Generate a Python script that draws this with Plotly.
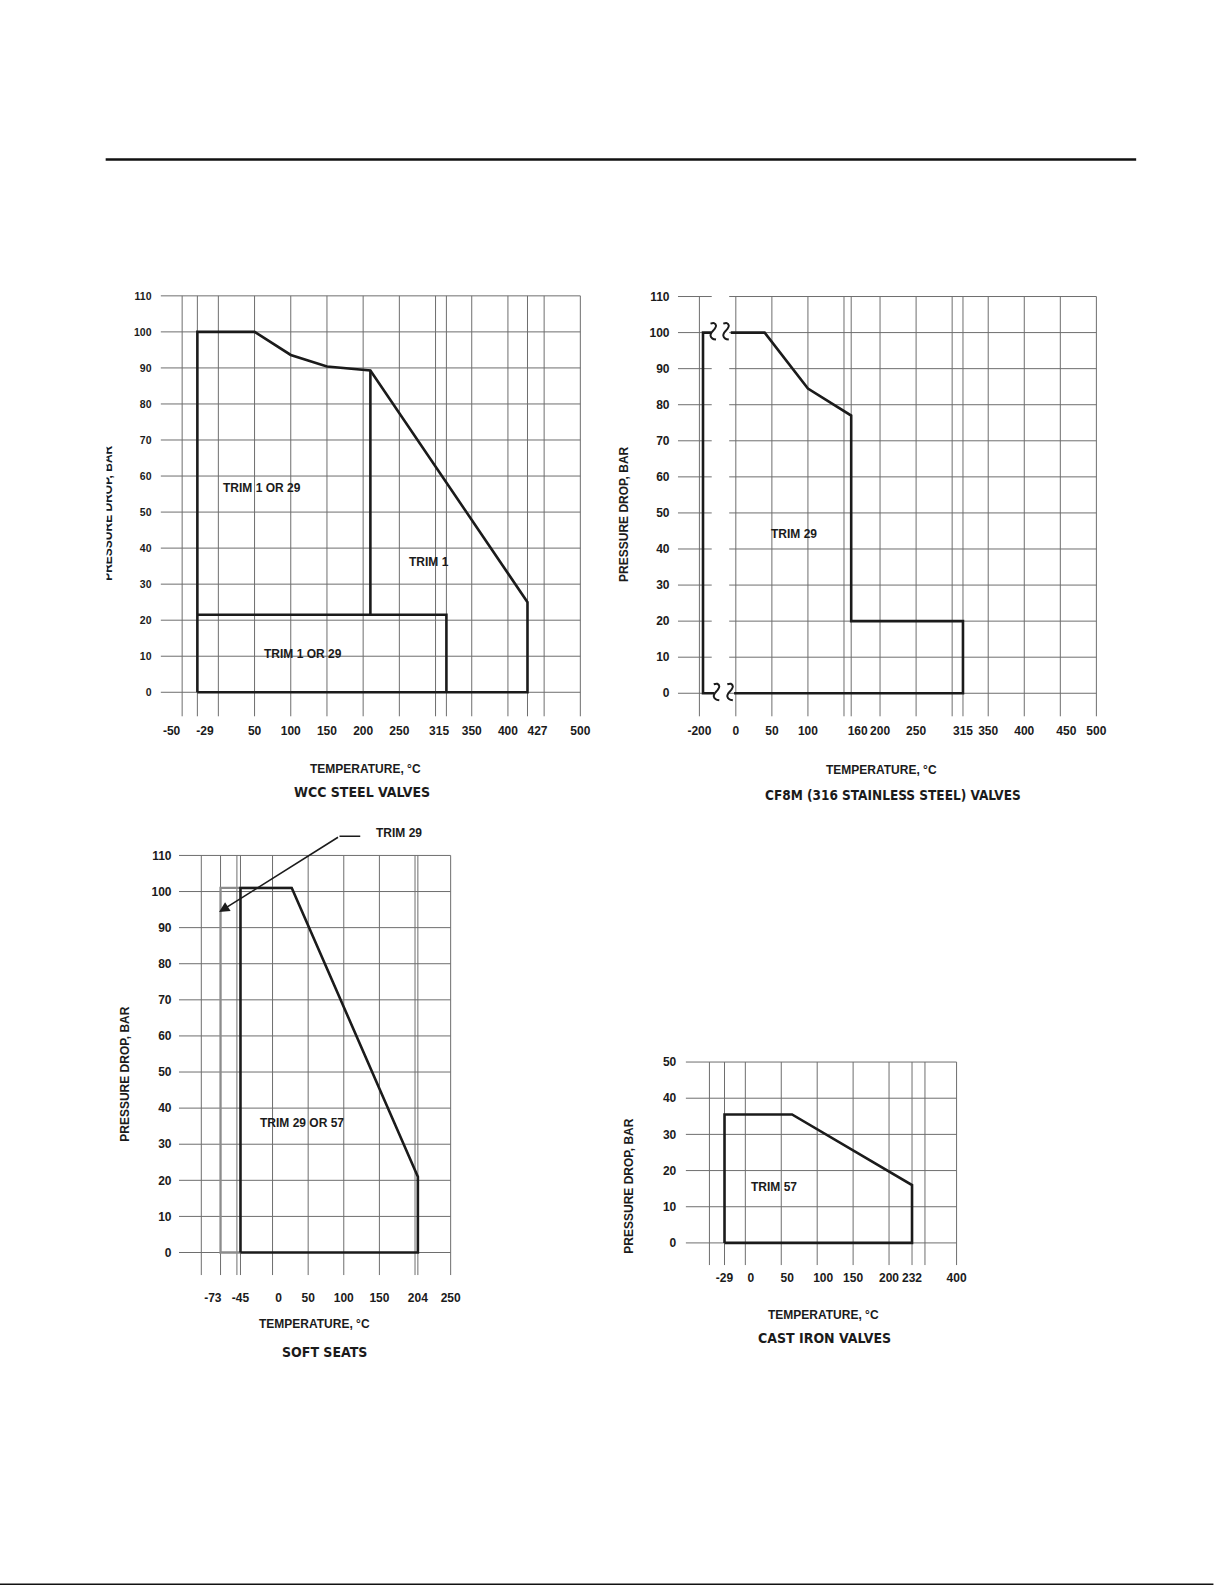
import plotly.graph_objects as go

W, H = 1225, 1585
FONT = "Liberation Sans, Arial, Helvetica, sans-serif"
NARROW = "Liberation Sans Narrow, Arial Narrow, DejaVu Sans Condensed, Liberation Sans, sans-serif"
INK = "#1b1b1b"
GRID = "#6e6e6e"
GRAYLINE = "#8c8c8c"

# ---------------- data ----------------
P_TICKS_110 = [0, 10, 20, 30, 40, 50, 60, 70, 80, 90, 100, 110]
P_TICKS_50 = [0, 10, 20, 30, 40, 50]

# WCC steel valves
WCC_OUTER_T = [-29, -29, 50, 100, 150, 210, 427, 427, -29]
WCC_OUTER_P = [0, 100, 100, 93.6, 90.4, 89.3, 25, 0, 0]
WCC_TRIM1_T = [210, 210]
WCC_TRIM1_P = [89.3, 21.5]
WCC_LOW_T = [-29, 315, 315]
WCC_LOW_P = [21.5, 21.5, 0]
WCC_XTICKS = [-50, -29, 50, 100, 150, 200, 250, 315, 350, 400, 427, 500]
WCC_XGRID = [-50, -29, 0, 50, 100, 150, 200, 250, 300, 315, 350, 400, 427, 450, 500]

# CF8M (316 stainless steel) valves
CF_LEFT_T = -198
CF_T = [0, 40, 100, 160, 160, 315, 315, 0]
CF_P = [100, 100, 84.5, 77, 20, 20, 0, 0]
CF_XTICKS = [-200, 0, 50, 100, 160, 200, 250, 315, 350, 400, 450, 500]
CF_XGRID = [-200, 0, 50, 100, 150, 160, 200, 250, 300, 315, 350, 400, 450, 500]

# Soft seats
SOFT29_T = [-45, -73, -73, 27]
SOFT29_P = [0, 0, 101, 101]
SOFT57_T = [-45, -45, 27, 204, 204, -45]
SOFT57_P = [0, 101, 101, 21, 0, 0]
SOFT_XTICKS = [-73, -45, 0, 50, 100, 150, 204, 250]
SOFT_XGRID = [-100, -73, -50, -45, 0, 50, 100, 150, 200, 204, 250]

# Cast iron valves
CI_T = [-29, -29, 65, 232, 232, -29]
CI_P = [0, 35.5, 35.5, 16, 0, 0]
CI_XTICKS = [-29, 0, 50, 100, 150, 200, 232, 400]
CI_XGRID = [-50, -29, 0, 50, 100, 150, 200, 232, 250, 400]

# small horizontal nudges (pixels) of some tick labels, as printed in the original
WCC_LABEL_NUDGE = {-50: -10.5, -29: 7.6, 315: -7.3, 427: 10}
CF_LABEL_NUDGE = {160: 6.5, 450: 6}
SOFT_LABEL_NUDGE = {-73: -7.7, 0: 6}
CI_LABEL_NUDGE = {0: 5.5, 50: 6, 100: 6}


def cf_pos(t):
    # -200..0 section is compressed (axis break)
    return t if t >= 0 else -50.5 + (t + 200) * 2.5


def ci_pos(t):
    # section above 250 is compressed (axis break)
    return t if t <= 250 else 250 + (t - 250) * 44 / 150


def ident(t):
    return t


# page geometry: horizontal stretch of the measured layout
XS, XO = 1.01, -1.7


def PX(px):
    return (XS * px + XO) / W


def PY(py):
    return 1 - py / H


SPECS = {
    "wcc": dict(n=1, x0=219.3, sx=0.7215, y0=691.7, sy=3.606, gx=(-79.8, 500), gy=(-6.74, 110),
                ytop=111.5, xpad=3, xtl=3, ytl=6, yfs=10.5),
    "cf": dict(n=2, x0=735.0, sx=0.7187, y0=692.7, sy=3.609, gx=(-80.3, 500), gy=(-6.46, 110),
               ytop=111.5, xpad=3, xtl=3, ytl=5, yfs=12),
    "soft": dict(n=3, x0=273.3, sx=0.710, y0=1252.3, sy=3.612, gx=(-131.4, 250), gy=(-6.28, 110),
                 ytop=118, xpad=3, xtl=11, ytl=4, yfs=12),
    "ci": dict(n=4, x0=744.5, sx=0.716, y0=1242.7, sy=3.62, gx=(-83.1, ci_pos(400)), gy=(-6.16, 50),
               ytop=51.5, xpad=3, xtl=1, ytl=6, yfs=12),
}


def px_x(s, v):
    return PX(s["x0"] + s["sx"] * v)


def px_y(s, v):
    return PY(s["y0"] - s["sy"] * v)


fig = go.Figure()
layout = dict(width=W, height=H, autosize=False, margin=dict(l=0, r=0, t=0, b=0),
              paper_bgcolor="white", plot_bgcolor="rgba(0,0,0,0)", showlegend=False)


def add_axes(key, xticks, xpos, yticks, nudge):
    s = SPECS[key]
    n = s["n"]
    sfx = "" if n == 1 else str(n)
    xr = [s["gx"][0], s["gx"][1] + s["xpad"]]
    yr = [s["gy"][0], s["ytop"]]
    layout["xaxis" + sfx] = dict(
        domain=[px_x(s, xr[0]), px_x(s, xr[1])], range=xr, anchor="y" + sfx,
        showgrid=False, zeroline=False, showline=False, fixedrange=True,
        tickmode="array", tickvals=[xpos(t) + nudge.get(t, 0) / s["sx"] for t in xticks],
        ticktext=[str(t) for t in xticks], tickangle=0,
        ticks="outside", ticklen=s["xtl"], tickcolor="rgba(0,0,0,0)",
        tickfont=dict(family=FONT, size=12, color=INK, weight="bold"))
    layout["yaxis" + sfx] = dict(
        domain=[px_y(s, yr[0]), px_y(s, yr[1])], range=yr, anchor="x" + sfx,
        showgrid=False, zeroline=False, showline=False, fixedrange=True,
        tickmode="array", tickvals=yticks, ticktext=[str(t) for t in yticks],
        ticks="outside", ticklen=s["ytl"], tickcolor="rgba(0,0,0,0)",
        tickfont=dict(family=FONT, size=s["yfs"], color=INK, weight="bold"))
    return "x" + sfx, "y" + sfx


def grid(key, xa, ya, xgrid, xpos, yticks, hgap=None):
    s = SPECS[key]
    xl, xh = s["gx"]
    yl, yh = s["gy"][0], yticks[-1]
    gx, gy = [], []
    for v in xgrid:
        gx += [xpos(v), xpos(v), None]
        gy += [yl, yh, None]
    for h in yticks:
        segs = [(xl, xh)] if hgap is None else [(xl, hgap[0]), (hgap[1], xh)]
        for a, b in segs:
            gx += [a, b, None]
            gy += [h, h, None]
    fig.add_trace(go.Scatter(x=gx, y=gy, mode="lines", xaxis=xa, yaxis=ya,
                             line=dict(color=GRID, width=1), hoverinfo="skip"))


def outline(xa, ya, xs, ys, color=INK, width=2.6):
    fig.add_trace(go.Scatter(x=xs, y=ys, mode="lines", xaxis=xa, yaxis=ya,
                             line=dict(color=color, width=width), hoverinfo="skip"))


annotations = []


def label(xa, ya, x, y, text, xanchor="center", size=12):
    annotations.append(dict(x=x, y=y, xref=xa, yref=ya, text=text, showarrow=False,
                            xanchor=xanchor, yanchor="middle",
                            font=dict(family=FONT, size=size, color=INK, weight="bold")))


def paper_text(x, y, text, size=12, family=FONT, angle=0):
    annotations.append(dict(x=PX(x), y=PY(y), xref="paper", yref="paper", text=text,
                            showarrow=False, xanchor="center", yanchor="middle", textangle=angle,
                            font=dict(family=family, size=size, color=INK, weight="bold")))


# ---------------- WCC ----------------
xa, ya = add_axes("wcc", WCC_XTICKS, ident, P_TICKS_110, WCC_LABEL_NUDGE)
grid("wcc", xa, ya, WCC_XGRID, ident, P_TICKS_110)
outline(xa, ya, WCC_OUTER_T, WCC_OUTER_P)
outline(xa, ya, WCC_TRIM1_T, WCC_TRIM1_P)
outline(xa, ya, WCC_LOW_T, WCC_LOW_P)
label(xa, ya, 59.6, 56.7, "TRIM 1 OR 29")
label(xa, ya, 291, 36.2, "TRIM 1")
label(xa, ya, 117.3, 10.6, "TRIM 1 OR 29")
paper_text(108.5, 513, "PRESSURE DROP, BAR", angle=-90)
# the printed original has the left half of this title cut off at the page edge
annotations.append(dict(x=PX(99.5), y=PY(513), xref="paper", yref="paper", text=" ",
                        showarrow=False, xanchor="center", yanchor="middle",
                        width=15, height=160, borderpad=0, bgcolor="white"))
paper_text(365.5, 768.5, "TEMPERATURE, °C")
paper_text(362.5, 791.5, "WCC STEEL VALVES", size=14, family=NARROW)

# ---------------- CF8M ----------------
s = SPECS["cf"]
xa, ya = add_axes("cf", CF_XTICKS, cf_pos, P_TICKS_110, CF_LABEL_NUDGE)
grid("cf", xa, ya, CF_XGRID, cf_pos, P_TICKS_110, hgap=(-33.4, -9.2))
BREAK_TOP = dict(p=100, stub=-34.0, marks=[-31.6, -13.9], resume=-7.0)
BREAK_BOT = dict(p=0, stub=-30.0, marks=[-27.1, -8.3], resume=-2.4)
SQ_DX = [-2.5, 1.0, 3.0, 1.5, -1.5, -2.5, -0.5, 3.0]   # squiggle glyph, pixels
SQ_DY = [9.0, 9.5, 7.0, 3.5, 0.0, -3.0, -6.0, -7.0]
outline(xa, ya, [BREAK_TOP["stub"], cf_pos(CF_LEFT_T), cf_pos(CF_LEFT_T), BREAK_BOT["stub"]],
        [100, 100, 0, 0])
outline(xa, ya, [BREAK_TOP["resume"]] + [cf_pos(t) for t in CF_T] + [BREAK_BOT["resume"]],
        [100] + CF_P + [0])
for br in (BREAK_TOP, BREAK_BOT):
    for cx in br["marks"]:
        fig.add_trace(go.Scatter(
            x=[cx + dx / s["sx"] for dx in SQ_DX], y=[br["p"] + dy / s["sy"] for dy in SQ_DY],
            mode="lines", line=dict(color=INK, width=2, shape="spline", smoothing=1.0),
            xaxis=xa, yaxis=ya, hoverinfo="skip"))
label(xa, ya, 81.1, 44.2, "TRIM 29")
paper_text(622.8, 514, "PRESSURE DROP, BAR", angle=-90)
paper_text(880.3, 769, "TEMPERATURE, °C")
paper_text(891.2, 795, "CF8M (316 STAINLESS STEEL) VALVES", size=13.5, family=NARROW)

# ---------------- Soft seats ----------------
xa, ya = add_axes("soft", SOFT_XTICKS, ident, P_TICKS_110, SOFT_LABEL_NUDGE)
grid("soft", xa, ya, SOFT_XGRID, ident, P_TICKS_110)
outline(xa, ya, SOFT29_T, SOFT29_P, color=GRAYLINE, width=2.3)
outline(xa, ya, SOFT57_T, SOFT57_P)
label(xa, ya, 41.4, 36, "TRIM 29 OR 57")
label(xa, ya, 142.3, 116.2, "TRIM 29", xanchor="left")
outline(xa, ya, [94, 123.1], [115.3, 115.3], width=1.6)
annotations.append(dict(x=-75.1, y=94.3, xref=xa, yref=ya, ax=94, ay=115.3, axref=xa, ayref=ya,
                        text="", showarrow=True, arrowhead=2, arrowsize=1.3, arrowwidth=1.6,
                        arrowcolor=INK, standoff=0))
paper_text(126.7, 1074, "PRESSURE DROP, BAR", angle=-90)
paper_text(315.3, 1324.3, "TEMPERATURE, °C")
paper_text(325.3, 1351.7, "SOFT SEATS", size=14, family=NARROW)

# ---------------- Cast iron ----------------
xa, ya = add_axes("ci", CI_XTICKS, ci_pos, P_TICKS_50, CI_LABEL_NUDGE)
grid("ci", xa, ya, CI_XGRID, ci_pos, P_TICKS_50)
outline(xa, ya, [ci_pos(t) for t in CI_T], CI_P)
label(xa, ya, 40.2, 15.5, "TRIM 57")
paper_text(628.3, 1185.7, "PRESSURE DROP, BAR", angle=-90)
paper_text(822.7, 1315, "TEMPERATURE, °C")
paper_text(823.3, 1338.3, "CAST IRON VALVES", size=14, family=NARROW)

shapes = [
    dict(type="line", xref="paper", yref="paper", x0=PX(107), x1=PX(1134),
         y0=PY(158.5), y1=PY(158.5), line=dict(color="#111", width=2.5)),
    dict(type="line", xref="paper", yref="paper", x0=0, x1=PX(1211),
         y0=PY(1584.2), y1=PY(1584.2), line=dict(color="#111", width=1.6)),
]

layout["annotations"] = annotations
layout["shapes"] = shapes
fig.update_layout(**layout)

POST = """
document.documentElement.style.margin='0px';
document.body.style.margin='0px';
document.body.style.padding='0px';
"""
fig.write_html("out.html", config={"displayModeBar": False}, post_script=POST)
